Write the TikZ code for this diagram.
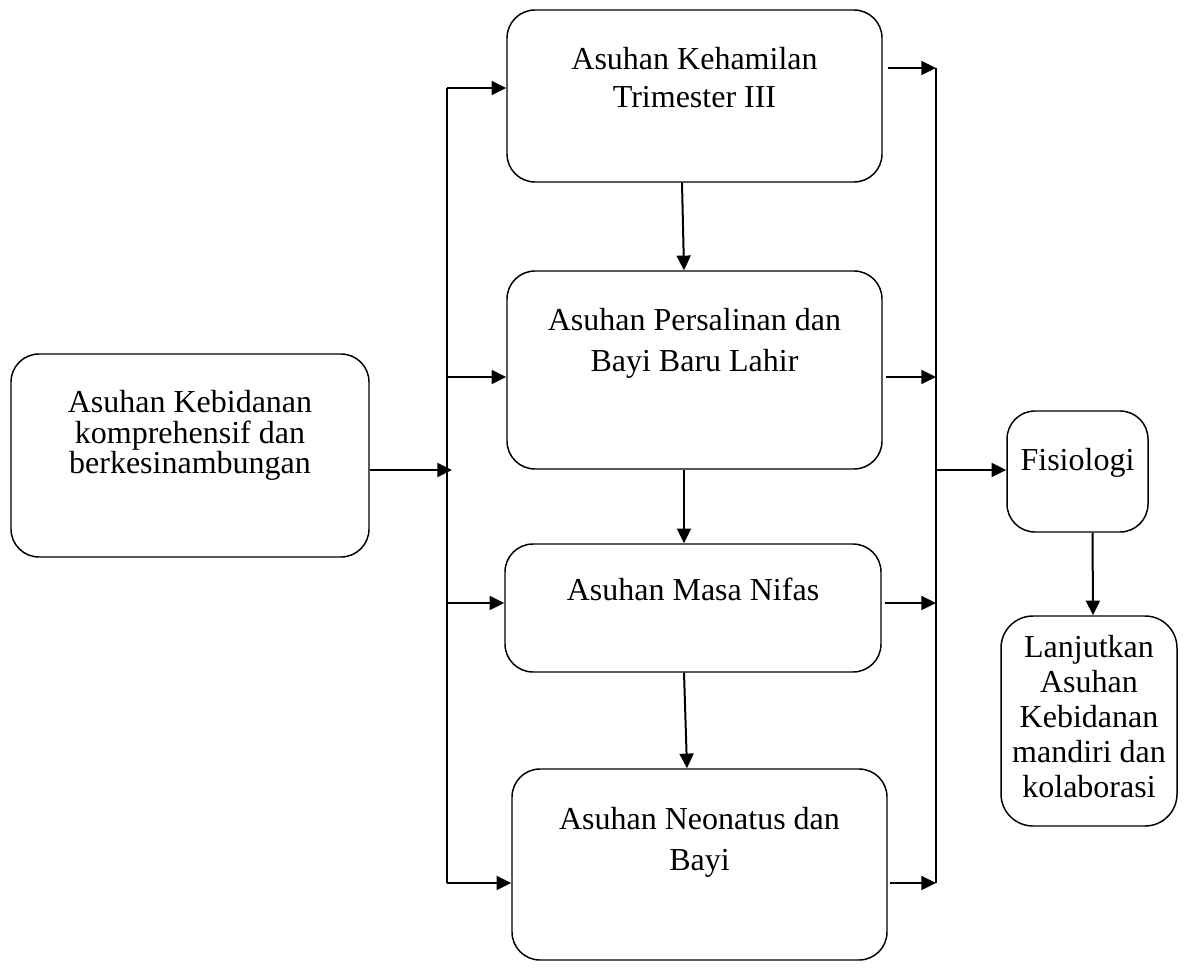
\documentclass[tikz,border=0pt]{standalone}
\usepackage{fontspec}
\setmainfont{Liberation Serif}
\usetikzlibrary{arrows.meta,fit,calc}
\begin{document}
\begin{tikzpicture}[x=0.75pt,y=-0.75pt,
  box/.style={draw, line width=1.1pt, rounded corners=21pt, inner sep=0pt},
  txt/.style={align=center, inner sep=0pt, anchor=north},
  arr/.style={line width=1.5pt, -{Triangle[length=11pt,width=10.5pt]}},
  ln/.style={line width=1.5pt}]
\useasboundingbox (0,0) rectangle (1201,969);
% boxes
\node[box, fit={(11,354) (369,557)}] (L) {};
\node[box, fit={(507,10) (882,182)}] (B1) {};
\node[box, fit={(507,271) (882,469)}] (B2) {};
\node[box, fit={(505,544) (881,672)}] (B3) {};
\node[box, fit={(512,769) (887,960)}] (B4) {};
\node[box, fit={(1007,411) (1148,532)}] (F) {};
\node[box, rounded corners=24pt, fit={(1001,616) (1177,826)}] (K) {};
% texts
\node[txt, font=\fontsize{24}{23}\selectfont] (tL) at (190,390) {Asuhan Kebidanan\\komprehensif dan\\berkesinambungan};
\node[txt, font=\fontsize{24}{28.5}\selectfont] (t1) at (694.5,47) {Asuhan Kehamilan\\Trimester III};
\node[txt, font=\fontsize{24}{31}\selectfont] (t2) at (694.5,308) {Asuhan Persalinan dan\\Bayi Baru Lahir};
\node[txt, font=\fontsize{24}{30}\selectfont] (t3) at (693,578) {Asuhan Masa Nifas};
\node[txt, font=\fontsize{24}{30.75}\selectfont] (t4) at (699.5,807) {Asuhan Neonatus dan\\Bayi};
\node[txt, font=\fontsize{24}{30}\selectfont] (tF) at (1077.5,448) {Fisiologi};
\node[txt, font=\fontsize{24}{26.25}\selectfont] (tK) at (1089,635) {Lanjutkan\\Asuhan\\Kebidanan\\mandiri dan\\kolaborasi};
% junction coordinates
\coordinate (jL) at (452,470);
\coordinate (l1) at (447,88);
\coordinate (l2) at (447,377);
\coordinate (l3) at (447,603);
\coordinate (l4) at (447,883);
\coordinate (r1) at (936,68);
\coordinate (r2) at (936,377);
\coordinate (r3) at (936,603);
\coordinate (r4) at (936,883);
\coordinate (jR) at (936,470);
% left input
\draw[arr] (L.east |- jL) -- (jL);
\draw[ln] (l1) -- (l4);
\draw[arr] (l1) -- (B1.west |- l1);
\draw[arr] (l2) -- (B2.west |- l2);
\draw[arr] (l3) -- (B3.west |- l3);
\draw[arr] (l4) -- (B4.west |- l4);
% middle chain
\draw[arr] ($(B1.south)+(-12.5,0)$) -- ($(B2.north)+(-10.5,0)$);
\draw[arr] ($(B2.south)+(-10.5,0)$) -- ($(B3.north)+(-9,0)$);
\draw[arr] ($(B3.south)+(-9,0)$) -- ($(B4.north)+(-12.5,0)$);
% right collection
\draw[arr] (B1.east |- r1) ++(5,0) -- (r1);
\draw[arr] (B2.east |- r2) ++(3,0) -- (r2);
\draw[arr] (B3.east |- r3) ++(3,0) -- (r3);
\draw[arr] (B4.east |- r4) ++(2,0) -- (r4);
\draw[ln] (r1) -- (r4);
\draw[arr] (jR) -- (F.west |- jR);
\draw[arr] ($(F.south)+(15,0)$) -- ($(K.north)+(4,0)$);
\end{tikzpicture}
\end{document}
